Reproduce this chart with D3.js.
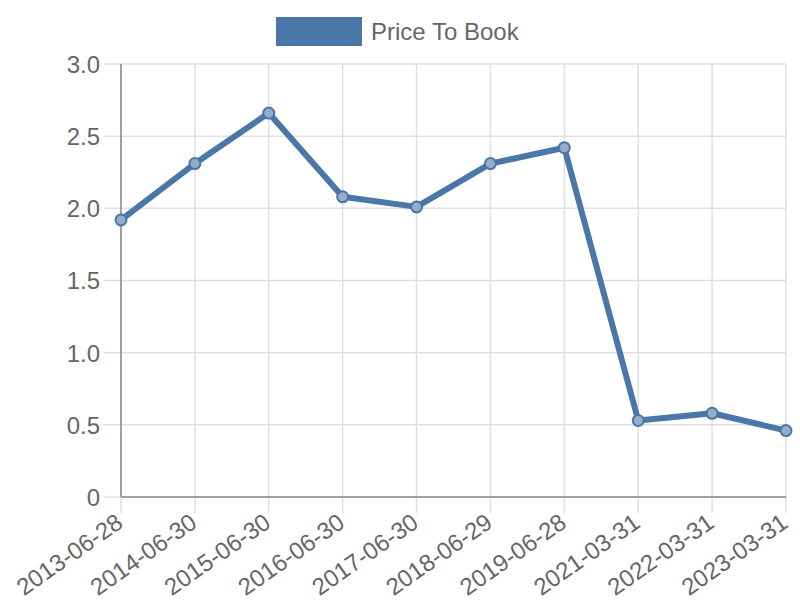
<!doctype html>
<html>
  <head>
    <script src="https://cdnjs.cloudflare.com/ajax/libs/d3/7.8.5/d3.min.js"></script>
    <style>
      body { margin: 0; background: #fff; }
      svg { font-family: "Liberation Sans", Arial, sans-serif; }
      .grid line { stroke: #e0e0e0; stroke-width: 1.5; }
    </style>
  </head>
  <body>
    <svg width="800" height="600"></svg>
    <script>
      var dates = ["2013-06-28", "2014-06-30", "2015-06-30", "2016-06-30", "2017-06-30",
                   "2018-06-29", "2019-06-28", "2021-03-31", "2022-03-31", "2023-03-31"];
      var priceToBook = [1.92, 2.31, 2.66, 2.08, 2.01, 2.31, 2.42, 0.53, 0.58, 0.46];
      var yTicks = [0, 0.5, 1.0, 1.5, 2.0, 2.5, 3.0];
      var seriesName = "Price To Book";

      var color = "#4a76a8";
      var svg = d3.select("svg");

      var x = d3.scalePoint().domain(dates).range([121, 786]);
      var y = d3.scaleLinear().domain([0, 3]).range([497, 64]);

      // grid
      var grid = svg.append("g").attr("class", "grid");
      grid.selectAll("line.h")
        .data(yTicks)
        .enter().append("line")
          .attr("x1", 104).attr("x2", 786)
          .attr("y1", d => y(d)).attr("y2", d => y(d));
      grid.selectAll("line.v")
        .data(dates)
        .enter().append("line")
          .attr("x1", d => x(d)).attr("x2", d => x(d))
          .attr("y1", 64).attr("y2", 513);

      // axes
      var yAxis = svg.append("g")
        .attr("transform", "translate(121,0)")
        .call(d3.axisLeft(y).tickValues(yTicks).tickSize(0).tickPadding(21)
          .tickFormat(d => d === 0 ? "0" : d3.format(".1f")(d)));
      var xAxis = svg.append("g")
        .attr("transform", "translate(0,497)")
        .call(d3.axisBottom(x).tickSize(0));

      [yAxis, xAxis].forEach(a => {
        a.select(".domain").attr("stroke", "#a0a0a0").attr("stroke-width", 2);
        a.selectAll(".tick line").remove();
        a.selectAll("text").attr("fill", "#666").style("font-size", "24px")
          .style("font-family", "Liberation Sans, Arial, sans-serif");
      });
      yAxis.select(".domain").attr("d", "M0,64V497");
      xAxis.select(".domain").attr("d", "M121,0H786");
      yAxis.selectAll("text").attr("dy", "0.35em");

      xAxis.selectAll("text")
        .attr("text-anchor", "end")
        .attr("x", 0).attr("y", 0).attr("dy", 0)
        .attr("transform", "translate(3,29) rotate(-35)");

      // line
      var line = d3.line()
        .x((d, i) => x(dates[i]))
        .y(d => y(d));
      svg.append("path")
        .datum(priceToBook)
        .attr("fill", "none")
        .attr("stroke", color)
        .attr("stroke-width", 6)
        .attr("stroke-linejoin", "round")
        .attr("d", line);

      svg.selectAll("circle.pt")
        .data(priceToBook)
        .enter().append("circle")
          .attr("class", "pt")
          .attr("cx", (d, i) => x(dates[i]))
          .attr("cy", d => y(d))
          .attr("r", 5.5)
          .attr("fill", "#93adcb")
          .attr("stroke", color)
          .attr("stroke-width", 2);

      // legend
      var legend = svg.append("g");
      legend.append("rect")
        .attr("x", 276).attr("y", 17).attr("width", 86).attr("height", 29)
        .attr("fill", color);
      legend.append("text")
        .attr("x", 371).attr("y", 40)
        .attr("fill", "#666")
        .style("font-size", "24px")
        .text(seriesName);
    </script>
  </body>
</html>
